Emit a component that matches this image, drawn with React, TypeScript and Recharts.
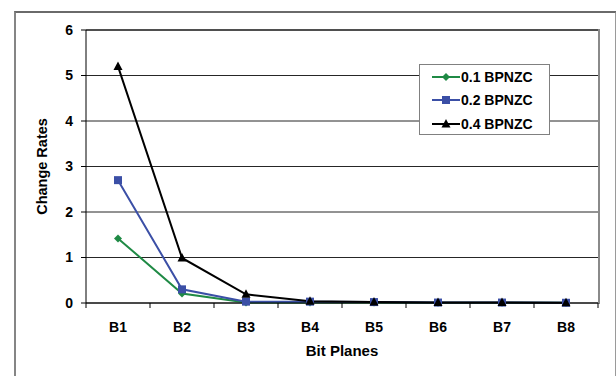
import { LineChart, Line, XAxis, YAxis, CartesianGrid } from 'recharts';

const categories = ['B1', 'B2', 'B3', 'B4', 'B5', 'B6', 'B7', 'B8'];
const bp01 = [1.42, 0.21, 0.01, 0.01, 0.01, 0.005, 0.005, 0.003];
const bp02 = [2.7, 0.3, 0.03, 0.03, 0.02, 0.01, 0.01, 0.005];
const bp04 = [5.2, 0.99, 0.19, 0.04, 0.02, 0.01, 0.01, 0.005];
const yTicks = [0, 1, 2, 3, 4, 5, 6];

const SERIES = [
    { key: 'bp01', name: '0.1 BPNZC', color: '#1f8a45', shape: 'diamond' },
    { key: 'bp02', name: '0.2 BPNZC', color: '#3b4fa6', shape: 'square' },
    { key: 'bp04', name: '0.4 BPNZC', color: '#000000', shape: 'triangle' },
];

const FONT = '"Liberation Sans", Arial, sans-serif';
const W = 616;
const H = 376;
const PLOT_LEFT = 86;
const PLOT_TOP = 30;
const PLOT_RIGHT = 598;
const PLOT_BOTTOM = 303;
const BAND = (PLOT_RIGHT - PLOT_LEFT) / categories.length;

const data = categories.map((c, i) => ({
    cat: c,
    bp01: bp01[i],
    bp02: bp02[i],
    bp04: bp04[i],
}));

function Marker({ cx, cy, shape, color }: any) {
    if (cx == null || cy == null) return null;
    if (shape === 'diamond') {
        const s = 4;
        return <polygon points={`${cx},${cy - s} ${cx + s},${cy} ${cx},${cy + s} ${cx - s},${cy}`} fill={color} />;
    }
    if (shape === 'square') {
        return <rect x={cx - 4} y={cy - 4} width={8} height={8} fill={color} />;
    }
    return <polygon points={`${cx},${cy - 5} ${cx + 4.5},${cy + 3.5} ${cx - 4.5},${cy + 3.5}`} fill={color} />;
}

const XTick = ({ x, y, payload, index }: any) => (
    <g>
        <line x1={x - BAND / 2} y1={y - 8} x2={x - BAND / 2} y2={y - 3} stroke="#000" />
        {index === categories.length - 1 && (
            <line x1={x + BAND / 2} y1={y - 8} x2={x + BAND / 2} y2={y - 3} stroke="#000" />
        )}
        <text x={x} y={y + 11} dy="0.71em" textAnchor="middle" fontSize={14} fontWeight="bold" fill="#000" fontFamily={FONT}>
            {payload.value}
        </text>
    </g>
);

const LegendBox = () => (
    <div
        style={{
            position: 'absolute',
            left: 419,
            top: 64,
            width: 131,
            height: 71,
            background: '#fff',
            border: '1px solid #808080',
            boxSizing: 'border-box',
            paddingTop: 0,
        }}
    >
        {SERIES.map((s) => (
            <div key={s.key} style={{ display: 'flex', alignItems: 'center', height: 23.5, paddingLeft: 12 }}>
                <svg width={28} height={12} style={{ display: 'block' }}>
                    <line x1={0} y1={6} x2={28} y2={6} stroke={s.color} strokeWidth={2} />
                    <Marker cx={14} cy={6} shape={s.shape} color={s.color} />
                </svg>
                <span style={{ fontFamily: FONT, fontWeight: 'bold', fontSize: 14, color: '#000', marginLeft: 1 }}>
                    {s.name}
                </span>
            </div>
        ))}
    </div>
);

export default function App() {
    return (
        <div style={{ position: 'absolute', left: 0, top: 0, width: W, height: H, background: '#fff', overflow: 'hidden' }}>
            <div
                style={{
                    position: 'absolute',
                    left: 14,
                    top: 11,
                    width: 599,
                    height: 400,
                    borderLeft: '2px solid #858585',
                    borderTop: '2px solid #6a6a6a',
                    borderRight: '2px solid #9a9a9a',
                }}
            />
            <div
                style={{
                    position: 'absolute',
                    left: PLOT_LEFT,
                    top: PLOT_TOP - 1,
                    width: PLOT_RIGHT - PLOT_LEFT,
                    height: PLOT_BOTTOM - PLOT_TOP,
                    borderTop: '2px solid #8a8a8a',
                    borderRight: '2px solid #8a8a8a',
                }}
            />
            <div style={{ position: 'absolute', left: 0, top: 0 }}>
                <LineChart
                    width={W}
                    height={H}
                    data={data}
                    margin={{ top: PLOT_TOP, right: W - PLOT_RIGHT, left: PLOT_LEFT - 60, bottom: H - PLOT_BOTTOM - 30 }}
                    style={{ fontFamily: FONT }}
                >
                    <CartesianGrid horizontal vertical={false} stroke="#000" strokeOpacity={0.85} />
                    <XAxis
                        dataKey="cat"
                        height={30}
                        padding={{ left: BAND / 2, right: BAND / 2 }}
                        axisLine={{ stroke: '#000' }}
                        tickLine={false}
                        tick={<XTick />}
                        interval={0}
                        label={{
                            value: 'Bit Planes',
                            position: 'bottom',
                            offset: 12,
                            style: { fontFamily: FONT, fontWeight: 'bold', fontSize: 15, fill: '#000' },
                        }}
                    />
                    <YAxis
                        width={60}
                        domain={[0, 6]}
                        ticks={yTicks}
                        interval={0}
                        axisLine={{ stroke: '#000' }}
                        tickLine={{ stroke: '#000' }}
                        tickSize={5}
                        tickMargin={8}
                        tick={{ fontFamily: FONT, fontWeight: 'bold', fontSize: 14, fill: '#000' }}
                        label={{
                            value: 'Change Rates',
                            angle: -90,
                            position: 'insideLeft',
                            offset: 16,
                            style: { textAnchor: 'middle', fontFamily: FONT, fontWeight: 'bold', fontSize: 14.5, fill: '#000' },
                        }}
                    />
                    {SERIES.map((s) => (
                        <Line
                            key={s.key}
                            type="linear"
                            dataKey={s.key}
                            name={s.name}
                            stroke={s.color}
                            strokeWidth={2}
                            dot={(p: any) => <Marker key={`${s.key}-${p.index}`} cx={p.cx} cy={p.cy} shape={s.shape} color={s.color} />}
                            activeDot={false}
                            isAnimationActive={false}
                        />
                    ))}
                </LineChart>
            </div>
            <LegendBox />
        </div>
    );
}
